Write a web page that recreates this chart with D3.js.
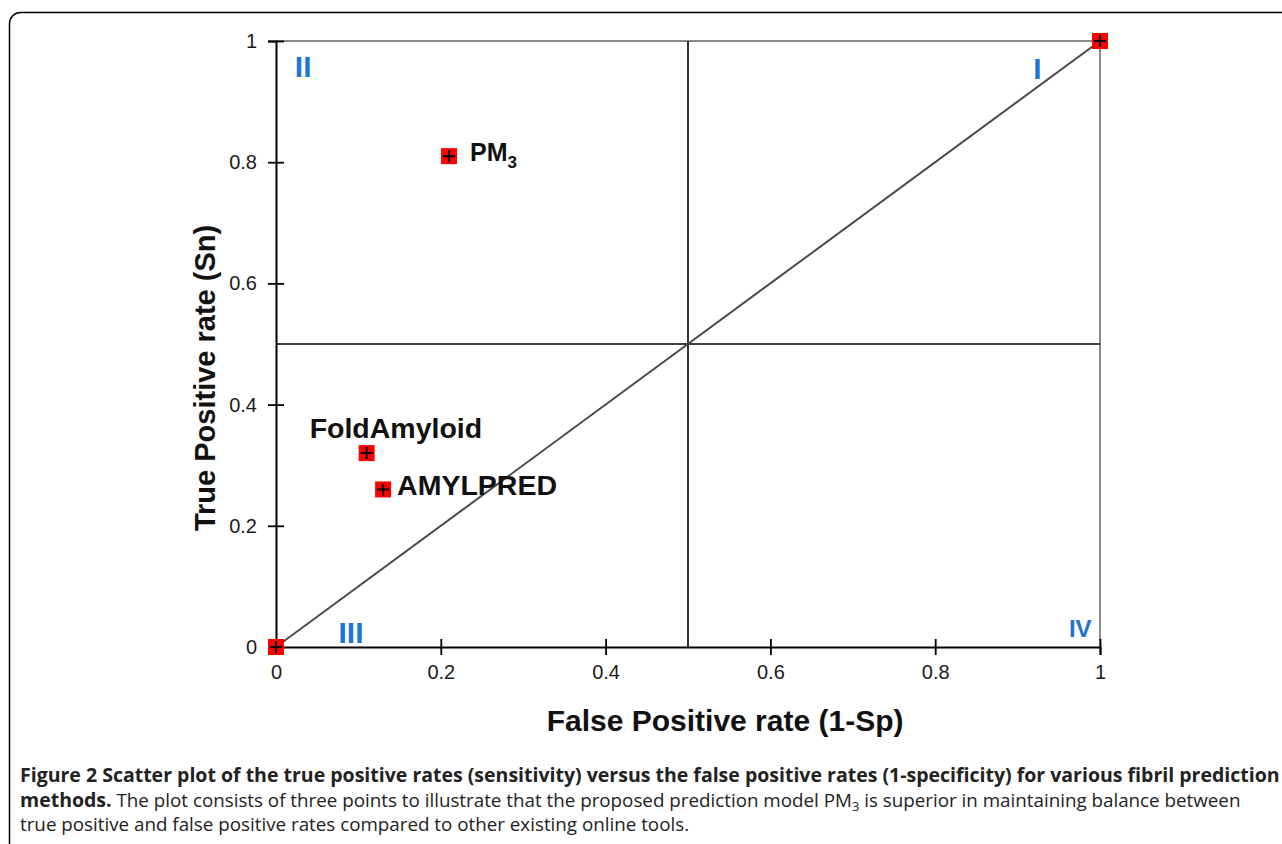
<!DOCTYPE html>
<html>
<head>
<meta charset="utf-8">
<script src="https://cdn.jsdelivr.net/npm/d3@7"></script>
<style>
  body { margin: 0; background: #fff; }
  svg { display: block; }
</style>
</head>
<body>
<div id="chart_container"></div>
<script>
// data
var names = ["", "", "PM", "FoldAmyloid", "AMYLPRED"];
var fpr = [0, 1, 0.21, 0.11, 0.13];
var tpr = [0, 1, 0.81, 0.32, 0.26];
var xTicks = [0, 0.2, 0.4, 0.6, 0.8, 1];
var yTicks = [0, 0.2, 0.4, 0.6, 0.8, 1];
var quadrants = ["I", "II", "III", "IV"];
var quadX = [0.924, 0.033, 0.091, 0.976];
var quadY = [0.938, 0.94, 0.007, 0.0165];
var quadSize = [30, 30, 30, 24];

// set the dimensions and margins of the graph
var W = 1282, H = 844;
var margin = { top: 41, left: 276 },
    width = 824,
    height = 606;

var x = d3.scaleLinear().domain([0, 1]).range([0, width]);
var y = d3.scaleLinear().domain([0, 1]).range([height, 0]);

var root = d3.select("#chart_container").append("svg")
    .attr("width", W)
    .attr("height", H);

// outer frame
root.append("rect")
    .attr("x", 9.5).attr("y", 12.5)
    .attr("width", 1300).attr("height", 880)
    .attr("rx", 11).attr("ry", 11)
    .attr("fill", "none")
    .attr("stroke", "#000")
    .attr("stroke-width", 1.5);

var svg = root.append("g")
    .attr("transform", "translate(" + margin.left + "," + margin.top + ")");

// top and right border
svg.append("path")
    .attr("d", "M" + x(0) + "," + y(1) + "H" + x(1) + "V" + y(0))
    .attr("fill", "none")
    .attr("stroke", "#8a8a8a")
    .attr("stroke-width", 2);

// midlines
svg.append("line")
    .attr("x1", x(0.5)).attr("x2", x(0.5))
    .attr("y1", y(0)).attr("y2", y(1))
    .attr("stroke", "#000").attr("stroke-width", 1.6);
svg.append("line")
    .attr("x1", x(0)).attr("x2", x(1))
    .attr("y1", y(0.5)).attr("y2", y(0.5))
    .attr("stroke", "#000").attr("stroke-width", 1.6);

// diagonal
svg.append("line")
    .attr("x1", x(0)).attr("y1", y(0))
    .attr("x2", x(1)).attr("y2", y(1))
    .attr("stroke", "#4a4a4a").attr("stroke-width", 2);

// axes
var xAxis = svg.append("g")
    .attr("transform", "translate(0," + height + ")")
    .call(d3.axisBottom(x).tickValues(xTicks).tickFormat(d3.format("")).tickSize(8).tickPadding(10));
var yAxis = svg.append("g")
    .call(d3.axisLeft(y).tickValues(yTicks).tickFormat(d3.format("")).tickSize(8).tickPadding(11));

[xAxis, yAxis].forEach(function(a) {
    a.select(".domain").attr("stroke", "#000").attr("stroke-width", 2);
    a.selectAll(".tick line").attr("stroke", "#000").attr("stroke-width", 1.8);
    a.selectAll(".tick text")
        .style("font-family", "'Liberation Sans', Arial, sans-serif")
        .style("font-size", "20px")
        .attr("fill", "#1a1a1a");
});
// ticks cross the axis
xAxis.selectAll(".tick line").attr("y1", -8);
yAxis.selectAll(".tick line").attr("x1", 8);

// quadrant labels
svg.selectAll(".quad")
    .data(quadrants)
    .enter().append("text")
    .attr("x", function(d, i) { return x(quadX[i]); })
    .attr("y", function(d, i) { return y(quadY[i]); })
    .attr("text-anchor", "middle")
    .attr("font-family", "'Liberation Sans', Arial, sans-serif")
    .attr("font-weight", "bold")
    .attr("font-size", function(d, i) { return quadSize[i]; })
    .attr("fill", "#1c74d4")
    .text(function(d) { return d; });

// points
var pts = svg.selectAll(".pt")
    .data(fpr)
    .enter().append("g")
    .attr("transform", function(d, i) { return "translate(" + x(d) + "," + y(tpr[i]) + ")"; });
pts.append("rect")
    .attr("x", -8).attr("y", -8)
    .attr("width", 16).attr("height", 16)
    .attr("fill", "#ff0000");
pts.append("path")
    .attr("d", "M-6,0H6M0,-6V6")
    .attr("stroke", "#000")
    .attr("stroke-width", 2);

// point labels
var lblFont = "'Liberation Sans', Arial, sans-serif";
var pm = svg.append("text")
    .attr("x", x(fpr[2]) + 21).attr("y", y(tpr[2]) + 5)
    .attr("font-family", lblFont).attr("font-weight", "bold").attr("font-size", 25)
    .attr("fill", "#111");
pm.append("tspan").text(names[2]);
pm.append("tspan").attr("font-size", 17).attr("dy", 7).text("3");

svg.append("text")
    .attr("x", x(fpr[3]) - 57).attr("y", y(tpr[3]) - 15)
    .attr("font-family", lblFont).attr("font-weight", "bold").attr("font-size", 28.5)
    .attr("fill", "#111")
    .text(names[3]);
svg.append("text")
    .attr("x", x(fpr[4]) + 14).attr("y", y(tpr[4]) + 6)
    .attr("font-family", lblFont).attr("font-weight", "bold").attr("font-size", 28.5)
    .attr("fill", "#111")
    .text(names[4]);

// axis titles
svg.append("text")
    .attr("x", x(0.545)).attr("y", height + 84)
    .attr("text-anchor", "middle")
    .attr("font-family", lblFont).attr("font-weight", "bold").attr("font-size", 30)
    .attr("fill", "#111")
    .text("False Positive rate (1-Sp)");
svg.append("text")
    .attr("transform", "translate(-61," + y(0.444) + ") rotate(-90)")
    .attr("text-anchor", "middle")
    .attr("font-family", lblFont).attr("font-weight", "bold").attr("font-size", 29)
    .attr("fill", "#111")
    .text("True Positive rate (Sn)");

// caption
var cap = root.append("g")
    .attr("font-family", "'Open Sans', 'Noto Sans', sans-serif")
    .attr("font-size", 18.8)
    .attr("fill", "#222");
cap.append("text").attr("x", 20).attr("y", 782)
    .attr("font-weight", "bold").attr("font-size", 19.5)
    .text("Figure 2 Scatter plot of the true positive rates (sensitivity) versus the false positive rates (1-specificity) for various fibril prediction");
var l2 = cap.append("text").attr("x", 20).attr("y", 807);
l2.append("tspan").attr("font-weight", "bold").attr("font-size", 19.5).text("methods.");
l2.append("tspan").text(" The plot consists of three points to illustrate that the proposed prediction model PM");
l2.append("tspan").attr("font-size", 13).attr("dy", 4).text("3");
l2.append("tspan").attr("dy", -4).text(" is superior in maintaining balance between");
cap.append("text").attr("x", 20).attr("y", 831)
    .text("true positive and false positive rates compared to other existing online tools.");
</script>
</body>
</html>
